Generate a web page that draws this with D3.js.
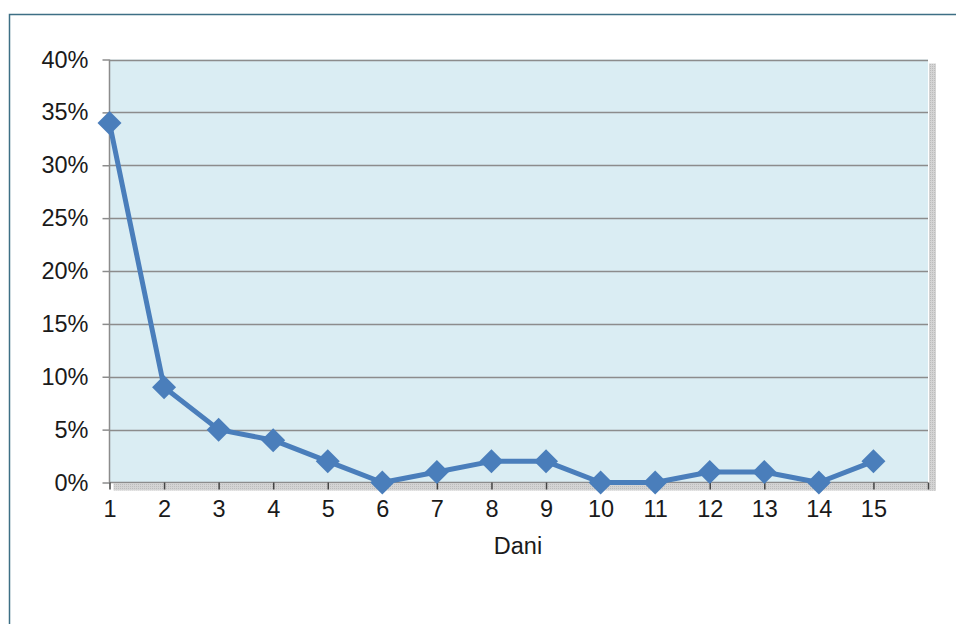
<!DOCTYPE html>
<html><head><meta charset="utf-8">
<script src="https://cdn.jsdelivr.net/npm/d3@7/dist/d3.min.js"></script>
<style>body{margin:0;background:#fff}svg{display:block}</style>
</head><body>
<svg id="c" width="956" height="624"></svg>
<script>
const days = [1,2,3,4,5,6,7,8,9,10,11,12,13,14,15];
const values = [34,9,5,4,2,0,1,2,2,0,0,1,1,0,2];
const yTicks = [0,5,10,15,20,25,30,35,40];
const xTicks = [1,2,3,4,5,6,7,8,9,10,11,12,13,14,15,16];
const xTitle = "Dani";

const svg = d3.select("#c");
const L = 109.5, R = 928, T = 59.5, B = 482.5;
const FONT = "'Liberation Sans',Arial,sans-serif";
const FS = "23.5px";
const x = d3.scaleLinear().domain([1,16]).range([L,R]);
const y = d3.scaleLinear().domain([0,40]).range([B,T]);

// outer border
svg.append("path").attr("d","M9.5,624 L9.5,14.5 L956,14.5").attr("fill","none").attr("stroke","#3d6f85").attr("stroke-width",1.5);

// shadow
const defs = svg.append("defs");
const pat = defs.append("pattern").attr("id","sh").attr("width",2).attr("height",2).attr("patternUnits","userSpaceOnUse");
pat.append("rect").attr("width",2).attr("height",2).attr("fill","#d4d4d4");
pat.append("rect").attr("width",1).attr("height",1).attr("fill","#bcbcbc");
svg.append("rect").attr("x",R+1).attr("y",T+4).attr("width",7).attr("height",B-T+4).attr("fill","url(#sh)");
svg.append("rect").attr("x",L+4).attr("y",B+1).attr("width",R-L+4).attr("height",7).attr("fill","url(#sh)");

// plot bg
svg.append("rect").attr("x",L).attr("y",T).attr("width",R-L).attr("height",B-T).attr("fill","#daedf3");

// gridlines
svg.append("g").selectAll("line").data(yTicks.filter(d=>d>0)).join("line")
  .attr("x1",L).attr("x2",R).attr("y1",d=>Math.round(y(d))+0.5).attr("y2",d=>Math.round(y(d))+0.5)
  .attr("stroke","#8c8c8c").attr("stroke-width",1.5);

// y axis
const yAxis = d3.axisLeft(y).tickValues(yTicks).tickFormat(d=>d+"%").tickSize(7).tickPadding(14);
const gy = svg.append("g").attr("transform",`translate(${L},0)`).call(yAxis);
gy.attr("font-size",null).attr("font-family",null);
gy.select(".domain").attr("stroke","#8c8c8c").attr("stroke-width",1.5).attr("d",`M0,${T}V${B}`);
gy.selectAll(".tick line").attr("stroke","#8c8c8c").attr("stroke-width",1.5);
gy.selectAll("text").style("font-family",FONT).style("font-size",FS).attr("fill","#1a1a1a");

// x axis
const xAxis = d3.axisBottom(x).tickValues(xTicks).tickFormat(d=>d<=15?d:"").tickSize(7).tickPadding(11);
const gx = svg.append("g").attr("transform",`translate(0,${B})`).call(xAxis);
gx.attr("font-size",null).attr("font-family",null);
gx.select(".domain").attr("stroke","#8c8c8c").attr("stroke-width",1.5).attr("d",`M${L},0H${R}`);
gx.selectAll(".tick line").attr("stroke","#444").attr("stroke-width",1.5);
gx.selectAll("text").style("font-family",FONT).style("font-size",FS).attr("fill","#1a1a1a");

svg.append("text").attr("x",518).attr("y",554).attr("text-anchor","middle")
  .style("font-family",FONT).style("font-size",FS).attr("fill","#1a1a1a").text(xTitle);

// line
const data = days.map((d,i)=>({d,v:values[i]}));
svg.append("path").datum(data).attr("fill","none").attr("stroke","#4a7ebb").attr("stroke-width",5)
  .attr("stroke-linejoin","round").attr("d",d3.line().x(p=>x(p.d)).y(p=>y(p.v)));
svg.append("g").selectAll("path").data(data).join("path")
  .attr("transform",p=>`translate(${x(p.d)},${y(p.v)})`)
  .attr("d","M0,-12L12,0L0,12L-12,0Z").attr("fill","#4a7ebb");
</script>
</body></html>
